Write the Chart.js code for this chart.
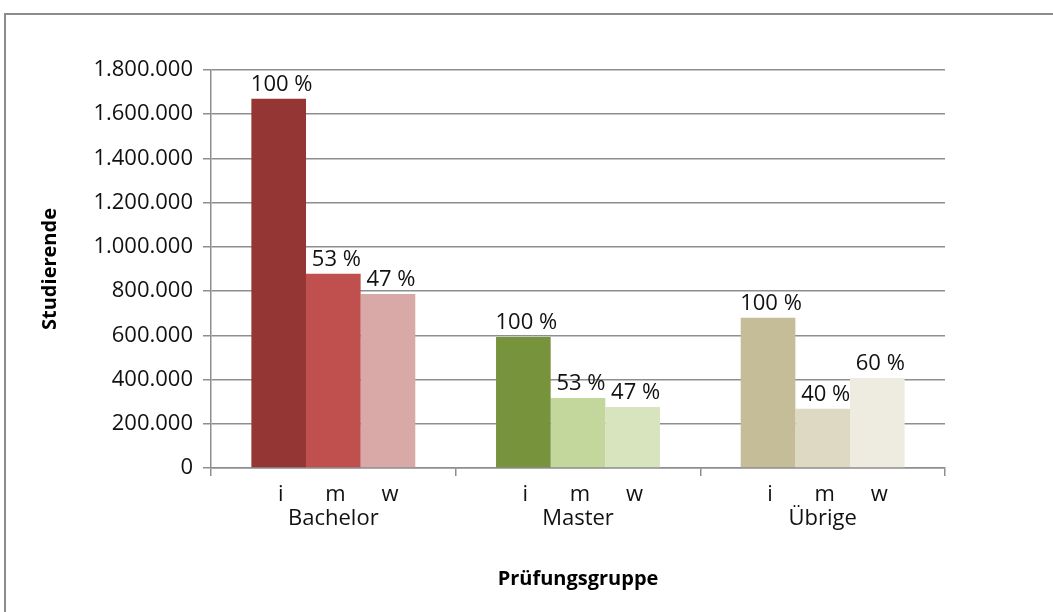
<!DOCTYPE html>
<html>
<head>
<meta charset="utf-8">
<script src="https://cdn.jsdelivr.net/npm/chart.js@4"></script>
<style>
  html, body { margin: 0; padding: 0; background: #fff; overflow: hidden; }
  #frame { position: absolute; left: 4px; top: 13px; width: 1100px; height: 700px; border: 2px solid #8c8c8c; }
  #wrap { position: absolute; left: 0; top: 0; width: 1053px; height: 612px; }
</style>
</head>
<body>
<div id="frame"></div>
<div id="wrap"><canvas id="studChart" width="1053" height="612"></canvas></div>
<script>
// Gruppen und Werte (Studierende)
const groups = ['Bachelor', 'Master', 'Übrige'];
const subLabels = ['i', 'm', 'w'];
const valuesI = [1670000, 593000, 679000];
const valuesM = [878000, 317000, 268000];
const valuesW = [787000, 276000, 407000];
const pctI = ['100 %', '100 %', '100 %'];
const pctM = ['53 %', '53 %', '40 %'];
const pctW = ['47 %', '47 %', '60 %'];

// colours per group, one array per series
const colorsI = ['#943634', '#77933C', '#C4BD97'];
const colorsM = ['#C0504D', '#C3D69B', '#DDD9C3'];
const colorsW = ['#D9A9A8', '#D7E4BD', '#EEECE1'];

const font = "'Open Sans', 'Noto Sans', sans-serif";
const gridColor = '#8e8e8e';

function fmt(v) {
    return String(v).replace(/\B(?=(\d{3})+(?!\d))/g, '.');
}

// draws the percentage above each bar and i/m/w under it
const barText = {
    id: 'barText',
    afterDatasetsDraw(chart) {
        const ctx = chart.ctx;
        const xScale = chart.scales.x;
        ctx.save();
        ctx.font = '22px ' + font;
        ctx.fillStyle = '#111';
        ctx.textAlign = 'center';
        chart.data.datasets.forEach((ds, i) => {
            const meta = chart.getDatasetMeta(i);
            meta.data.forEach((bar, j) => {
                ctx.textBaseline = 'bottom';
                ctx.fillText(ds.pct[j], bar.x + 3, bar.y - 3);
                ctx.textBaseline = 'middle';
                ctx.fillText(subLabels[i], bar.x + 2, xScale.top + 27);
            });
        });
        ctx.restore();
    }
};

const ctx = document.getElementById('studChart').getContext('2d');
new Chart(ctx, {
    type: 'bar',
    data: {
        labels: groups,
        datasets: [
            { label: 'i', data: valuesI, pct: pctI, backgroundColor: colorsI },
            { label: 'm', data: valuesM, pct: pctM, backgroundColor: colorsM },
            { label: 'w', data: valuesW, pct: pctW, backgroundColor: colorsW }
        ]
    },
    options: {
        responsive: false,
        animation: false,
        devicePixelRatio: 1,
        layout: { padding: { left: 34, right: 108, top: 70, bottom: 0 } },
        datasets: { bar: { categoryPercentage: 0.67, barPercentage: 1.0 } },
        plugins: { legend: { display: false }, tooltip: { enabled: false } },
        scales: {
            x: {
                afterFit: s => { s.height = 612 - 468; },
                grid: { drawOnChartArea: false, drawTicks: true, tickLength: 8, color: gridColor, lineWidth: 1.5 },
                border: { color: gridColor, width: 1.5 },
                ticks: { color: '#111', font: { family: font, size: 22 }, padding: 30 },
                title: {
                    display: true,
                    text: 'Prüfungsgruppe',
                    color: '#000',
                    font: { family: font, size: 20, weight: 'bold' },
                    padding: { top: 4, bottom: 21 }
                }
            },
            y: {
                min: 0,
                max: 1800000,
                afterFit: s => { s.width = 211 - 34; },
                grid: { color: gridColor, lineWidth: 1.5, tickLength: 8 },
                border: { color: gridColor, width: 1.5 },
                ticks: {
                    stepSize: 200000,
                    color: '#111',
                    font: { family: font, size: 22 },
                    padding: 10,
                    callback: v => fmt(v)
                },
                title: {
                    display: true,
                    text: 'Studierende',
                    color: '#000',
                    font: { family: font, size: 20, weight: 'bold' }
                }
            }
        }
    },
    plugins: [barText]
});
</script>
</body>
</html>
